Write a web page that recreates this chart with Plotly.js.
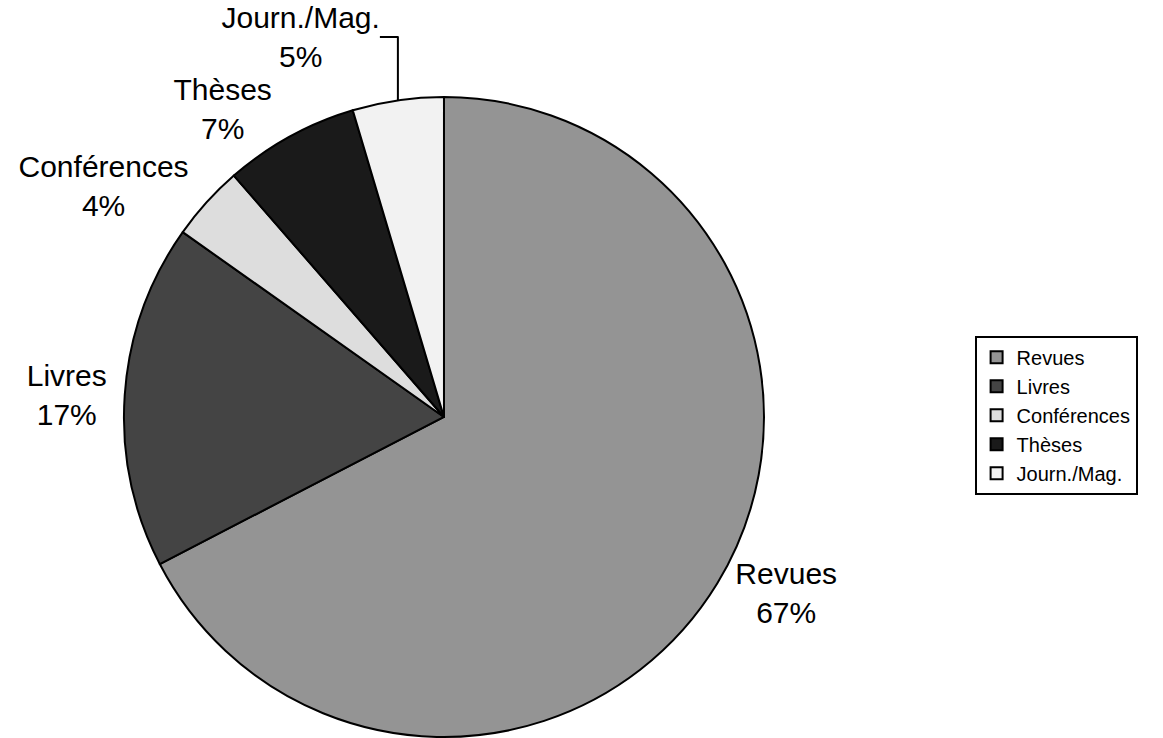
<!DOCTYPE html>
<html><head><meta charset="utf-8">
<script src="https://cdn.plot.ly/plotly-3.0.1.min.js"></script>
<style>html,body{margin:0;padding:0;background:#fff;}</style>
</head><body>
<div id="chart" style="width:1163px;height:738px;"></div>
<script>
var categories = ["Revues", "Livres", "Conférences", "Thèses", "Journ./Mag."];
var values = [67.4, 17.4, 3.8, 6.8, 4.6];
var colors = ["#949494", "#444444", "#dddddd", "#1a1a1a", "#f2f2f2"];

var trace = {
  type: "pie",
  labels: categories,
  values: values,
  sort: false,
  direction: "clockwise",
  rotation: 0,
  marker: {colors: colors, line: {color: "#000000", width: 2}},
  textposition: "outside",
  texttemplate: "%{label}<br>%{percent:.0%}",
  textfont: {family: "Liberation Sans, Arial, sans-serif", size: 30, color: "#000"},
  outsidetextfont: {family: "Liberation Sans, Arial, sans-serif", size: 30, color: "#000"},
  automargin: false,
  domain: {x: [0.1066, 0.6569], y: [0.0014, 0.8686]},
  hoverinfo: "label+percent"
};

var layout = {
  width: 1163, height: 738,
  margin: {l: 0, r: 0, t: 0, b: 0},
  paper_bgcolor: "#fff",
  showlegend: true,
  legend: {
    x: 0.838, y: 0.545, xanchor: "left", yanchor: "top",
    bordercolor: "#000", borderwidth: 2,
    font: {family: "Liberation Sans, Arial, sans-serif", size: 20, color: "#000"},
    tracegroupgap: 0, itemwidth: 30
  },
  font: {family: "Liberation Sans, Arial, sans-serif"}
};

Plotly.newPlot("chart", [trace], layout, {displayModeBar: false, staticPlot: true});
</script>
</body></html>
